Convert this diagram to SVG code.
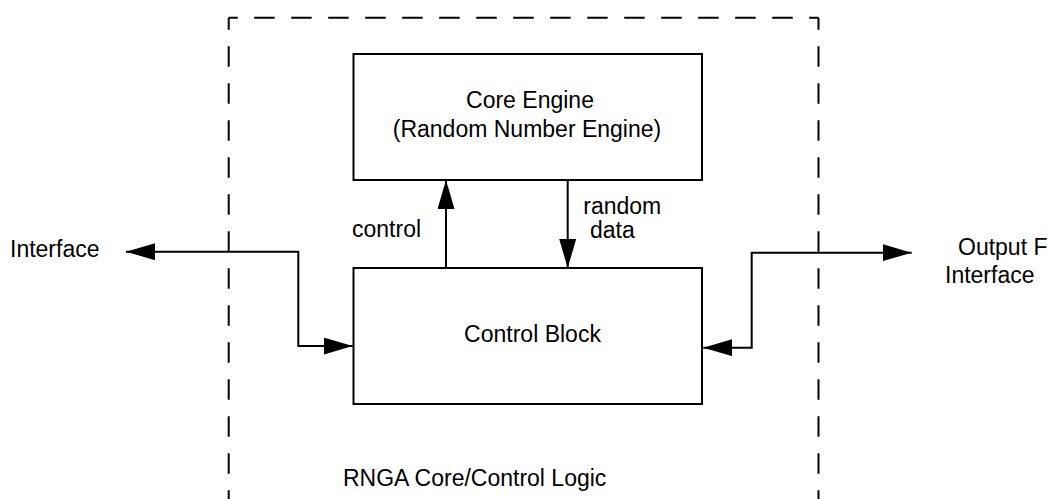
<svg xmlns="http://www.w3.org/2000/svg" width="1048" height="499" viewBox="0 0 1048 499">
<style>
.t{font-family:"Liberation Sans",Arial,Helvetica,sans-serif;font-size:23px;fill:#000}
.box{fill:#fff;stroke:#000;stroke-width:2}
.dash{fill:none;stroke:#000;stroke-width:2;stroke-dasharray:20.5 16.5}
.conn{fill:none;stroke:#000;stroke-width:2}
</style>
<defs>
<marker id="ah" markerUnits="userSpaceOnUse" markerWidth="30" markerHeight="18" refX="29" refY="8.5" orient="auto-start-reverse">
<path d="M0,0 L29,8.5 L0,17 z" fill="#000"/>
</marker>
</defs>
<rect width="1048" height="499" fill="#fff"/>
<g id="boundary">
<line class="dash" x1="228.7" y1="17.8" x2="818.5" y2="17.8" stroke-dashoffset="11.5"/>
<line class="dash" x1="228.7" y1="17.8" x2="228.7" y2="499" stroke-dashoffset="8.5"/>
<line class="dash" x1="818.5" y1="17.8" x2="818.5" y2="499" stroke-dashoffset="8.5"/>
<text class="t" x="343" y="486">RNGA Core/Control Logic</text>
</g>
<g id="core-engine">
<rect class="box" x="353.5" y="54" width="348.5" height="126"/>
<text class="t" x="530" y="108" text-anchor="middle">Core Engine</text>
<text class="t" x="527" y="137" text-anchor="middle">(Random Number Engine)</text>
</g>
<g id="control-block">
<rect class="box" x="353.5" y="268" width="348.5" height="136"/>
<text class="t" x="532.5" y="342" text-anchor="middle">Control Block</text>
</g>
<g id="interface-left">
<text class="t" x="10" y="256.5">Interface</text>
</g>
<g id="output-interface">
<text class="t" x="958" y="255">Output F</text>
<text class="t" x="945" y="283">Interface</text>
</g>
<g id="connectors">
<path class="conn" d="M126,251.7 H298.3 V346 H352.7" marker-start="url(#ah)" marker-end="url(#ah)"/>
<path class="conn" d="M911.7,252.7 H751.7 V347.7 H703.3" marker-start="url(#ah)" marker-end="url(#ah)"/>
<path class="conn" d="M446,268 V180" marker-end="url(#ah)"/>
<path class="conn" d="M567.7,180 V268" marker-end="url(#ah)"/>
<text class="t" x="352" y="236.7">control</text>
<text class="t" x="583.3" y="214">random</text>
<text class="t" x="590" y="237.5">data</text>
</g>
</svg>
